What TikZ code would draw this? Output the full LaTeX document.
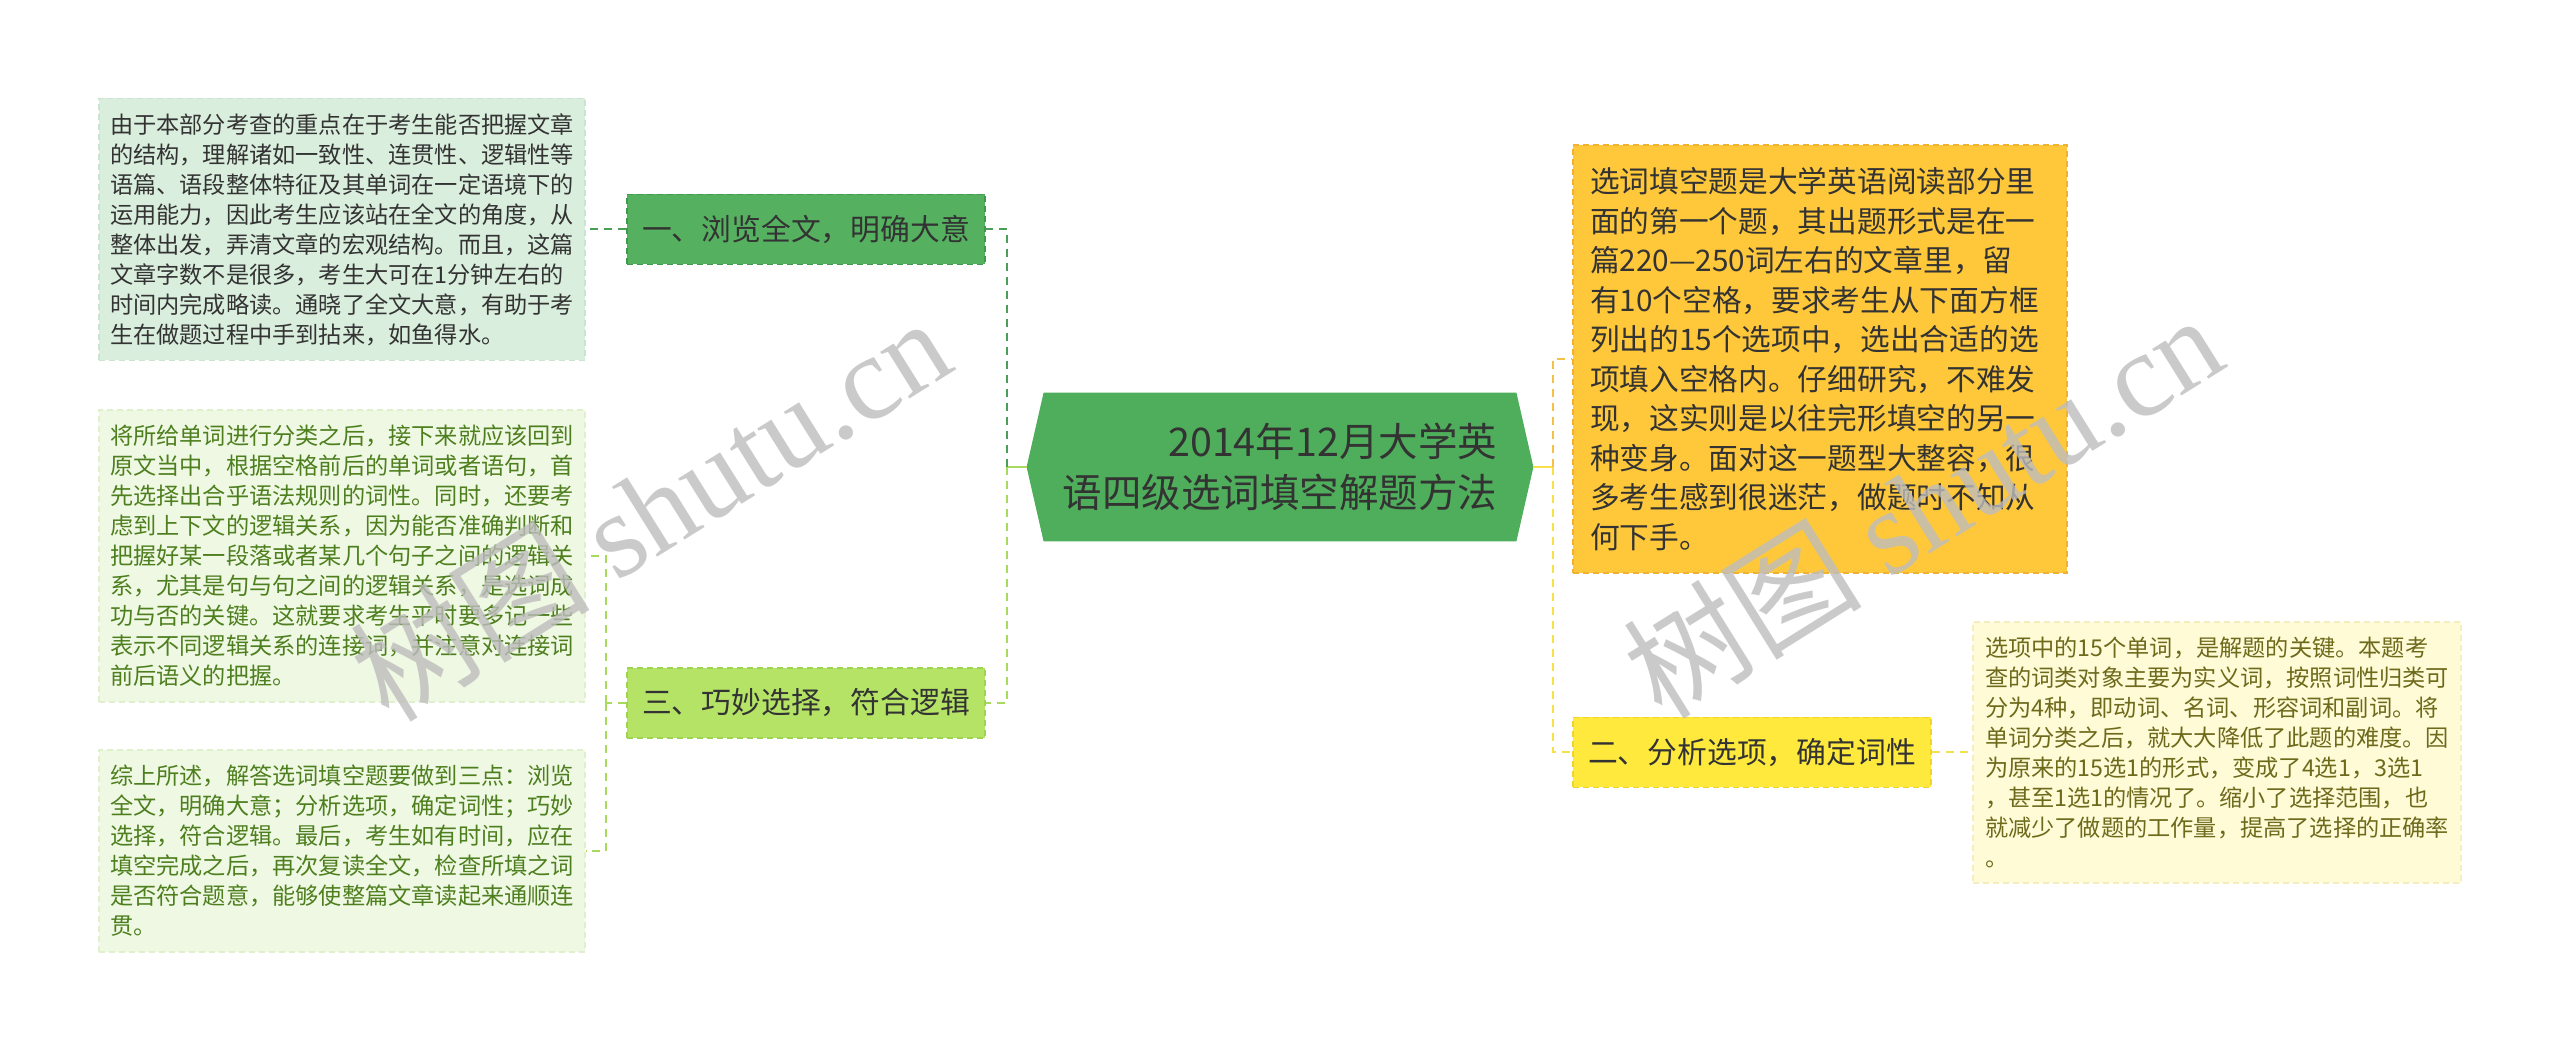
\documentclass[tikz,border=0pt]{standalone}
\usepackage{fontspec}
\setmainfont{Noto Sans CJK SC}
\newfontfamily\wmfont{Liberation Serif}
\usetikzlibrary{backgrounds}
\definecolor{cenfill}{HTML}{4FAE5B}
\definecolor{onefill}{HTML}{55B160}
\definecolor{oneedge}{HTML}{3F9A4C}
\definecolor{dgline}{HTML}{4A9E55}
\definecolor{threefill}{HTML}{B4E366}
\definecolor{threeedge}{HTML}{9FD352}
\definecolor{lgline}{HTML}{A8DA5E}
\definecolor{leafafill}{HTML}{DAEEDD}
\definecolor{leafaedge}{HTML}{CBE4CF}
\definecolor{leafbfill}{HTML}{EFF8E3}
\definecolor{leafbedge}{HTML}{E0EFCC}
\definecolor{leafbtext}{HTML}{4E7F1F}
\definecolor{orfill}{HTML}{FFC83B}
\definecolor{oredge}{HTML}{F0B230}
\definecolor{orline}{HTML}{F4C04A}
\definecolor{twofill}{HTML}{FEE93C}
\definecolor{twoedge}{HTML}{F0D42A}
\definecolor{yline}{HTML}{F7E04A}
\definecolor{leafcfill}{HTML}{FFFBD6}
\definecolor{leafcedge}{HTML}{F6EDBE}
\definecolor{leafctext}{HTML}{6E6A1C}
\definecolor{darktext}{HTML}{333333}
\definecolor{wmgray}{HTML}{BDBDBD}
\begin{document}
\begin{tikzpicture}[x=0.5pt,y=-0.5pt,
  boxedge/.style={dash pattern=on 3pt off 2pt, line width=0.7pt},
  leafbox/.style={rectangle, boxedge, align=left, inner xsep=5.5pt, inner ysep=0pt,
    text width=232pt, minimum width=243pt,
    font=\fontsize{11.6pt}{15pt}\selectfont},
  branchbox/.style={rectangle, boxedge, align=center, inner sep=0pt,
    minimum width=179pt, minimum height=35pt, text=darktext,
    font=\fontsize{14.9pt}{18pt}\selectfont},
  conn/.style={line width=1pt, dash pattern=on 4pt off 3pt},
  stub/.style={line width=1.2pt},
  wm/.style={text=wmgray, opacity=0.8, rotate=32, inner sep=0pt,
    font=\fontsize{60pt}{60pt}\selectfont}
]
\useasboundingbox (0,0) rectangle (2560,1052);

% centre
\node[align=right, inner sep=0pt, minimum width=253pt, minimum height=74pt,
  text=darktext, font=\fontsize{19.75pt}{25.85pt}\selectfont] (cen) at (1280,467)
  {2014年12月大学英\\语四级选词填空解题方法};
\begin{scope}[on background layer]
\fill[cenfill] (cen.west) -- ([xshift=8.5pt]cen.north west) -- ([xshift=-8.5pt]cen.north east)
  -- (cen.east) -- ([xshift=-8.5pt]cen.south east) -- ([xshift=8.5pt]cen.south west) -- cycle;
\end{scope}

% left branches
\node[branchbox, fill=onefill, draw=oneedge] (n1) at (806,229.5) {一、浏览全文，明确大意};
\node[branchbox, fill=threefill, draw=threeedge] (n3) at (806,703) {三、巧妙选择，符合逻辑};

\node[leafbox, fill=leafafill, draw=leafaedge, text=darktext, minimum height=131pt] (leaf1) at (342,229.5)
{由于本部分考查的重点在于考生能否把握文章\\
的结构，理解诸如一致性、连贯性、逻辑性等\\
语篇、语段整体特征及其单词在一定语境下的\\
运用能力，因此考生应该站在全文的角度，从\\
整体出发，弄清文章的宏观结构。而且，这篇\\
文章字数不是很多，考生大可在1分钟左右的\\
时间内完成略读。通晓了全文大意，有助于考\\
生在做题过程中手到拈来，如鱼得水。};

\node[leafbox, fill=leafbfill, draw=leafbedge, text=leafbtext, minimum height=146pt] (leaf2) at (342,556)
{将所给单词进行分类之后，接下来就应该回到\\
原文当中，根据空格前后的单词或者语句，首\\
先选择出合乎语法规则的词性。同时，还要考\\
虑到上下文的逻辑关系，因为能否准确判断和\\
把握好某一段落或者某几个句子之间的逻辑关\\
系，尤其是句与句之间的逻辑关系，是选词成\\
功与否的关键。这就要求考生平时要多记一些\\
表示不同逻辑关系的连接词，并注意对连接词\\
前后语义的把握。};

\node[leafbox, fill=leafbfill, draw=leafbedge, text=leafbtext, minimum height=101pt] (leaf3) at (342,851)
{综上所述，解答选词填空题要做到三点：浏览\\
全文，明确大意；分析选项，确定词性；巧妙\\
选择，符合逻辑。最后，考生如有时间，应在\\
填空完成之后，再次复读全文，检查所填之词\\
是否符合题意，能够使整篇文章读起来通顺连\\
贯。};

% right branches
\node[rectangle, boxedge, fill=orfill, draw=oredge, align=left, inner xsep=8.5pt, inner ysep=0pt,
  text width=230pt, minimum width=247pt, minimum height=214pt, text=darktext,
  font=\fontsize{14.85pt}{19.75pt}\selectfont] (orange) at (1820,359)
{选词填空题是大学英语阅读部分里\\
面的第一个题，其出题形式是在一\\
篇220—250词左右的文章里，留\\
有10个空格，要求考生从下面方框\\
列出的15个选项中，选出合适的选\\
项填入空格内。仔细研究，不难发\\
现，这实则是以往完形填空的另一\\
种变身。面对这一题型大整容，很\\
多考生感到很迷茫，做题时不知从\\
何下手。};

\node[branchbox, fill=twofill, draw=twoedge] (n2) at (1752,752.5) {二、分析选项，确定词性};

\node[leafbox, fill=leafcfill, draw=leafcedge, text=leafctext, inner xsep=6pt, minimum width=244pt,
  minimum height=130.5pt] (leaf4) at (2217,752.5)
{选项中的15个单词，是解题的关键。本题考\\
查的词类对象主要为实义词，按照词性归类可\\
分为4种，即动词、名词、形容词和副词。将\\
单词分类之后，就大大降低了此题的难度。因\\
为原来的15选1的形式，变成了4选1，3选1\\
，甚至1选1的情况了。缩小了选择范围，也\\
就减少了做题的工作量，提高了选择的正确率\\
。};

% connectors
\coordinate (jl) at (1007,467);
\coordinate (jb) at (606,703);
\coordinate (jr) at (1553,467);
\draw[stub, lgline] (cen.west) -- (jl);
\draw[conn, dgline] (jl) |- (n1.east);
\draw[conn, lgline] (jl) |- (n3.east);
\draw[conn, dgline] (n1.west) -- (leaf1.east);
\draw[conn, lgline] (n3.west) -- (jb);
\draw[conn, lgline] (jb) |- (leaf2.east);
\draw[conn, lgline] (jb) |- (leaf3.east);
\draw[stub, yline] (cen.east) -- (jr);
\draw[conn, orline] (jr) |- (orange.west);
\draw[conn, yline] (jr) |- (n2.west);
\draw[conn, yline] (n2.east) -- (leaf4.west);

% watermarks
\node[wm] (wm1) at (650,508) {树图 {\wmfont shutu.cn}};
\node[wm] (wm2) at (1922,505) {树图 {\wmfont shutu.cn}};
\end{tikzpicture}
\end{document}
